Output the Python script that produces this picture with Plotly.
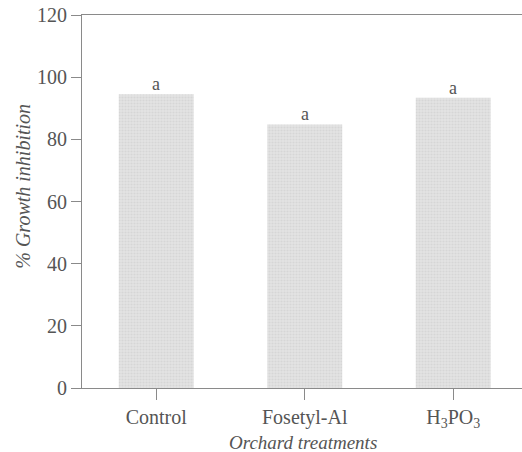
import plotly.graph_objects as go

categories = ["Control", "Fosetyl-Al", "H<sub>3</sub>PO<sub>3</sub>"]
values = [94.5, 84.8, 93.4]
letters = ["a", "a", "a"]
y_ticks = [0, 20, 40, 60, 80, 100, 120]

FONT = "Liberation Serif"
TXT = "#555555"
AX = "#8a8a8a"

fig = go.Figure()
fig.add_trace(go.Bar(
    x=[0, 1, 2], y=values, width=0.505,
    marker=dict(color="#e2e2e2", line=dict(width=0),
                pattern=dict(shape=".", fgcolor="#c8c8c8", bgcolor="#e4e4e4", size=3, solidity=0.4)),
    showlegend=False, hoverinfo="skip",
))
for i, (v, l) in enumerate(zip(values, letters)):
    fig.add_annotation(x=i, y=v, text=l, showarrow=False, yanchor="bottom", yshift=-2,
                       font=dict(family=FONT, size=18, color=TXT))

fig.add_annotation(xref="paper", yref="paper", x=-0.136, xanchor="center", y=0.54, yanchor="middle",
                   text="<i>% Growth inhibition</i>",
                   textangle=-90, showarrow=False, font=dict(family=FONT, size=20, color=TXT))
fig.add_annotation(xref="paper", yref="paper", x=0.5 - (301 - 302) / 440, xanchor="center",
                   y=-0.145, yanchor="middle",
                   text="<i>Orchard treatments</i>", showarrow=False,
                   font=dict(family=FONT, size=19, color=TXT))

fig.update_xaxes(range=[-0.5, 2.463], tickvals=[0, 1, 2], ticktext=categories,
                 showline=True, linecolor=AX, linewidth=1, mirror=True,
                 ticks="outside", ticklen=11, tickcolor=AX, showgrid=False, zeroline=False,
                 tickfont=dict(family=FONT, size=20, color=TXT))
fig.update_yaxes(range=[0, 120], tickvals=y_ticks, showline=True, linecolor=AX, linewidth=1,
                 ticks="outside", ticklen=10, tickcolor=AX, showgrid=False, zeroline=False,
                 tickfont=dict(family=FONT, size=20, color=TXT))

fig.update_layout(width=522, height=452, margin=dict(l=82, r=0, t=15, b=64),
                  paper_bgcolor="white", plot_bgcolor="white", bargap=0.5)
fig.write_html("out.html")
